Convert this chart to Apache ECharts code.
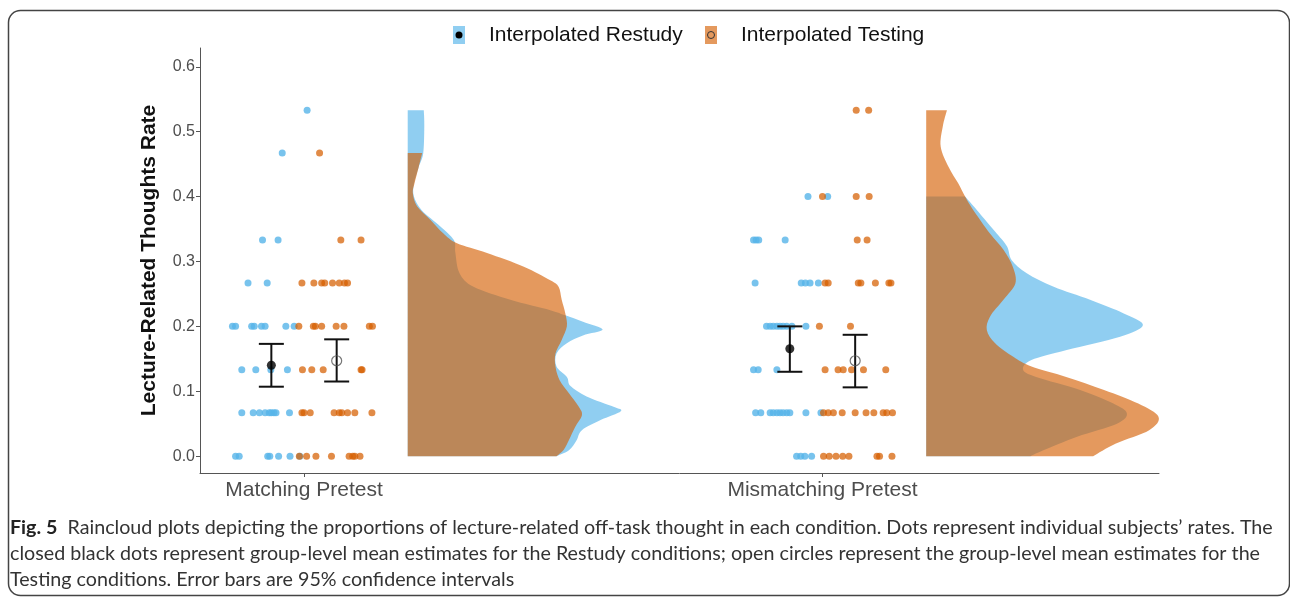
<!DOCTYPE html>
<html><head><meta charset="utf-8">
<script src="https://cdn.jsdelivr.net/npm/echarts@6/dist/echarts.min.js"></script>
<style>html,body{margin:0;padding:0;background:#fff}#c{width:1290px;height:598px}</style>
</head><body><div id="c"></div><script>
// ---------------- DATA ----------------
const categories = ['Matching Pretest', 'Mismatching Pretest'];
const yTicks = [0, 0.1, 0.2, 0.3, 0.4, 0.5, 0.6];
const seriesNames = ['Interpolated Restudy', 'Interpolated Testing'];

// individual subject rates and horizontal position (offset from category centre)
const matchRestudyRates = [0.533, 0.467, 0.333, 0.333, 0.267, 0.267,
  0.2, 0.2, 0.2, 0.2, 0.2, 0.2, 0.2, 0.2,
  0.133, 0.133, 0.133, 0.133,
  0.067, 0.067, 0.067, 0.067, 0.067, 0.067, 0.067, 0.067, 0.067,
  0, 0, 0, 0, 0, 0, 0];
const matchRestudyOffset = [0.006, -0.042, -0.080, -0.050, -0.108, -0.071,
  -0.138, -0.132, -0.101, -0.096, -0.082, -0.075, -0.035, -0.019,
  -0.120, -0.093, -0.064, -0.032,
  -0.120, -0.098, -0.086, -0.075, -0.067, -0.063, -0.058, -0.054, -0.028,
  -0.132, -0.125, -0.070, -0.066, -0.049, -0.027, -0.008];

const matchTestingRates = [0.467, 0.333, 0.333,
  0.267, 0.267, 0.267, 0.267, 0.267, 0.267, 0.267, 0.267,
  0.2, 0.2, 0.2, 0.2, 0.2, 0.2, 0.2, 0.2,
  0.133, 0.133, 0.133, 0.133, 0.133,
  0.067, 0.067, 0.067, 0.067, 0.067, 0.067, 0.067, 0.067, 0.067,
  0, 0, 0, 0, 0, 0, 0, 0];
const matchTestingOffset = [0.030, 0.071, 0.110,
  -0.004, 0.019, 0.034, 0.040, 0.055, 0.068, 0.078, 0.084,
  -0.010, 0.018, 0.022, 0.034, 0.062, 0.077, 0.126, 0.132,
  -0.003, 0.015, 0.037, 0.110, 0.112,
  -0.004, 0.000, 0.012, 0.058, 0.068, 0.073, 0.084, 0.098, 0.131,
  -0.009, 0.005, 0.023, 0.053, 0.087, 0.094, 0.098, 0.108];

const mismatchRestudyRates = [0.4, 0.4,
  0.333, 0.333, 0.333, 0.333,
  0.267, 0.267, 0.267, 0.267, 0.267,
  0.2, 0.2, 0.2, 0.2, 0.2, 0.2, 0.2, 0.2, 0.2,
  0.133, 0.133, 0.133,
  0.067, 0.067, 0.067, 0.067, 0.067, 0.067, 0.067, 0.067, 0.067, 0.067, 0.067,
  0, 0, 0, 0];
const mismatchRestudyOffset = [-0.028, 0.010,
  -0.133, -0.128, -0.123, -0.072,
  -0.130, -0.041, -0.033, -0.024, -0.008,
  -0.108, -0.101, -0.095, -0.088, -0.082, -0.076, -0.069, -0.059, -0.032,
  -0.133, -0.124, -0.088,
  -0.129, -0.119, -0.101, -0.095, -0.088, -0.082, -0.076, -0.069, -0.063, -0.032, -0.003,
  -0.050, -0.042, -0.034, -0.021];

const mismatchTestingRates = [0.533, 0.533,
  0.4, 0.4, 0.4,
  0.333, 0.333,
  0.267, 0.267, 0.267, 0.267, 0.267, 0.267, 0.267,
  0.2, 0.2,
  0.133, 0.133, 0.133, 0.133, 0.133, 0.133,
  0.067, 0.067, 0.067, 0.067, 0.067, 0.067, 0.067, 0.067, 0.067, 0.067,
  0, 0, 0, 0, 0, 0, 0, 0];
const mismatchTestingOffset = [0.065, 0.089,
  0.000, 0.065, 0.090,
  0.067, 0.086,
  0.005, 0.011, 0.069, 0.074, 0.102, 0.128, 0.132,
  -0.006, 0.054,
  0.005, 0.030, 0.040, 0.056, 0.079, 0.122,
  0.002, 0.011, 0.021, 0.038, 0.063, 0.084, 0.099, 0.117, 0.124, 0.135,
  0.002, 0.013, 0.026, 0.039, 0.051, 0.105, 0.110, 0.134];

// group-level means and 95% CIs  [Matching, Mismatching]
const restudyMeans = [0.140, 0.1655];
const restudyLow   = [0.107, 0.130];
const restudyHigh  = [0.173, 0.200];
const testingMeans = [0.147, 0.147];
const testingLow   = [0.115, 0.106];
const testingHigh  = [0.180, 0.187];

// half-violin densities: [rate, scaled density], from top of range down to 0
const matchRestudyDensity = [[0.533,0.031],[0.51,0.032],[0.467,0.030],[0.445,0.021],[0.42,0.012],[0.40,0.012],
  [0.379,0.027],[0.354,0.063],[0.333,0.089],[0.313,0.092],[0.282,0.100],[0.261,0.127],[0.241,0.198],
  [0.225,0.275],[0.217,0.304],[0.207,0.338],[0.195,0.376],[0.186,0.338],[0.174,0.307],[0.158,0.287],
  [0.138,0.287],[0.122,0.307],[0.108,0.314],[0.092,0.345],[0.076,0.397],[0.069,0.411],[0.0555,0.372],
  [0.04,0.336],[0.025,0.326],[0.009,0.311],[0,0.287]];
const matchTestingDensity = [[0.467,0.028],[0.445,0.021],[0.42,0.013],[0.405,0.010],[0.385,0.018],[0.364,0.044],
  [0.343,0.069],[0.328,0.095],[0.313,0.153],[0.292,0.224],[0.271,0.275],[0.261,0.291],[0.241,0.297],
  [0.22,0.304],[0.2,0.307],[0.179,0.297],[0.158,0.285],[0.138,0.285],[0.117,0.293],[0.097,0.311],
  [0.076,0.330],[0.063,0.336],[0.045,0.323],[0.025,0.311],[0.01,0.301],[0,0.287]];
const mismatchRestudyDensity = [[0.4,0.075],[0.379,0.098],[0.343,0.136],[0.323,0.156],[0.302,0.165],[0.282,0.194],
  [0.261,0.246],[0.241,0.316],[0.22,0.381],[0.202,0.418],[0.184,0.374],[0.1635,0.271],[0.148,0.203],
  [0.133,0.187],[0.122,0.212],[0.102,0.297],[0.081,0.361],[0.066,0.387],[0.05,0.368],[0.03,0.291],
  [0.009,0.226],[0,0.201]];
const mismatchTestingDensity = [[0.533,0.040],[0.508,0.032],[0.477,0.028],[0.446,0.043],[0.42,0.062],[0.4,0.075],
  [0.379,0.091],[0.343,0.123],[0.318,0.149],[0.292,0.167],[0.266,0.172],[0.241,0.149],[0.215,0.123],
  [0.194,0.117],[0.174,0.133],[0.153,0.168],[0.138,0.203],[0.122,0.270],[0.102,0.343],[0.081,0.409],
  [0.0606,0.448],[0.04,0.430],[0.0195,0.366],[0,0.322]];

// ---------------- LAYOUT / STYLE ----------------
const DODGE = 0.063;         // dodge of the two conditions within a category
const VIOLIN_OFFSET = 0.2;   // half-violin baseline relative to category centre
const BLUE = '#56B4E9', ORANGE = '#D55E00';
const BLUE_FILL = 'rgba(86,180,233,0.66)', ORANGE_FILL = 'rgba(213,94,0,0.63)';

const chart = echarts.init(document.getElementById('c'), null, {renderer: 'canvas'});

function dots(rates, offs, cat) { return rates.map((r, i) => [cat + offs[i], r]); }

function densityRender(pairs, base, fill) {
  return function (params, api) {
    const pts = pairs.map(p => api.coord([base + p[1], p[0]]));
    const top = api.coord([base, pairs[0][0]]);
    const bot = api.coord([base, pairs[pairs.length - 1][0]]);
    let d = 'M' + top[0] + ',' + top[1] + ' L' + pts[0][0] + ',' + pts[0][1];
    const n = pts.length;
    for (let i = 0; i < n - 1; i++) {
      const p0 = pts[Math.max(i - 1, 0)], p1 = pts[i], p2 = pts[i + 1], p3 = pts[Math.min(i + 2, n - 1)];
      const c1 = [p1[0] + (p2[0] - p0[0]) / 6, p1[1] + (p2[1] - p0[1]) / 6];
      const c2 = [p2[0] - (p3[0] - p1[0]) / 6, p2[1] - (p3[1] - p1[1]) / 6];
      d += ' C' + c1[0] + ',' + c1[1] + ' ' + c2[0] + ',' + c2[1] + ' ' + p2[0] + ',' + p2[1];
    }
    d += ' L' + bot[0] + ',' + bot[1] + ' Z';
    return { type: 'path', shape: { pathData: d }, style: { fill: fill, stroke: null } };
  };
}

function densitySeries(name, pairs, cat, fill) {
  return { type: 'custom', name: name, coordinateSystem: 'cartesian2d', silent: true,
    renderItem: densityRender(pairs, cat + VIOLIN_OFFSET, fill), data: [[cat + VIOLIN_OFFSET, 0]], z: 1 };
}

function errorRender(params, api) {
  const x = api.value(0);
  const lo = api.coord([x, api.value(1)]), hi = api.coord([x, api.value(2)]);
  const hw = 12.5;
  const st = { stroke: '#111', lineWidth: 2 };
  return { type: 'group', children: [
    { type: 'line', shape: { x1: lo[0], y1: lo[1], x2: hi[0], y2: hi[1] }, style: st },
    { type: 'line', shape: { x1: lo[0] - hw, y1: lo[1], x2: lo[0] + hw, y2: lo[1] }, style: st },
    { type: 'line', shape: { x1: hi[0] - hw, y1: hi[1], x2: hi[0] + hw, y2: hi[1] }, style: st }
  ]};
}

const errData = [];
[1, 2].forEach((c, i) => {
  errData.push([c - DODGE, restudyLow[i], restudyHigh[i]]);
  errData.push([c + DODGE, testingLow[i], testingHigh[i]]);
});

const captionFont = 'Lato';
const CAP_SIZE = 19.7;
const option = {
  backgroundColor: '#fff',
  animation: false,
  grid: { left: 200, right: 131, top: 48, bottom: 125 },
  xAxis: {
    type: 'value', min: 0.7994, max: 2.649,
    splitLine: { show: false },
    axisLine: { show: true, onZero: false, lineStyle: { color: '#555', width: 1 } },
    axisTick: { show: true, customValues: [1, 2], length: 4, lineStyle: { color: '#555' } },
    axisLabel: { customValues: [1, 2], formatter: v => categories[Math.round(v) - 1],
      fontSize: 21, color: '#4d4d4d', fontFamily: 'Liberation Sans', margin: 7 }
  },
  yAxis: {
    type: 'value', min: -0.026, max: 0.629,
    name: 'Lecture-Related Thoughts Rate', nameLocation: 'middle', nameGap: 40,
    nameTextStyle: { fontSize: 21, fontWeight: 'bold', color: '#111', fontFamily: 'Liberation Sans' },
    splitLine: { show: false },
    axisLine: { show: true, onZero: false, lineStyle: { color: '#555', width: 1 } },
    axisTick: { show: true, customValues: yTicks, length: 4, lineStyle: { color: '#555' } },
    axisLabel: { customValues: yTicks, formatter: v => v.toFixed(1),
      fontSize: 16, color: '#4d4d4d', fontFamily: 'Liberation Sans', margin: 5 }
  },
  series: [
    densitySeries(seriesNames[0], matchRestudyDensity, 1, BLUE_FILL),
    densitySeries(seriesNames[0], mismatchRestudyDensity, 2, BLUE_FILL),
    densitySeries(seriesNames[1], matchTestingDensity, 1, ORANGE_FILL),
    densitySeries(seriesNames[1], mismatchTestingDensity, 2, ORANGE_FILL),
    { type: 'scatter', name: seriesNames[0], symbolSize: 7, silent: true, z: 3,
      itemStyle: { color: BLUE, opacity: 0.8 },
      data: dots(matchRestudyRates, matchRestudyOffset, 1).concat(dots(mismatchRestudyRates, mismatchRestudyOffset, 2)) },
    { type: 'scatter', name: seriesNames[1], symbolSize: 7, silent: true, z: 4,
      itemStyle: { color: ORANGE, opacity: 0.72 },
      data: dots(matchTestingRates, matchTestingOffset, 1).concat(dots(mismatchTestingRates, mismatchTestingOffset, 2)) },
    { type: 'custom', name: 'ci', coordinateSystem: 'cartesian2d', silent: true, z: 5,
      renderItem: errorRender, data: errData },
    { type: 'scatter', name: 'restudyMean', symbol: 'circle', symbolSize: 9, silent: true, z: 6,
      itemStyle: { color: '#000' },
      data: restudyMeans.map((m, i) => [i + 1 - DODGE, m]) },
    { type: 'scatter', name: 'testingMean', symbol: 'circle', symbolSize: 10, silent: true, z: 6,
      itemStyle: { color: 'rgba(255,255,255,0)', borderColor: '#555', borderWidth: 1.2 },
      data: testingMeans.map((m, i) => [i + 1 + DODGE, m]) }
  ],
  graphic: [
    { type: 'rect', left: 6, top: 8, shape: { width: 1281, height: 585, r: 12 }, silent: true,
      style: { fill: 'none', stroke: '#444', lineWidth: 1.5 }, z: 10 },
    // legend
    { type: 'rect', shape: { x: 453, y: 26, width: 12, height: 18 }, style: { fill: BLUE_FILL }, z: 10 },
    { type: 'circle', shape: { cx: 459, cy: 35, r: 3.5 }, style: { fill: '#000' }, z: 11 },
    { type: 'text', x: 489, y: 35, style: { text: seriesNames[0], fontSize: 21, fontFamily: 'Liberation Sans',
      fill: '#111', verticalAlign: 'middle' }, z: 11 },
    { type: 'rect', shape: { x: 705, y: 26, width: 12, height: 18 }, style: { fill: ORANGE_FILL }, z: 10 },
    { type: 'circle', shape: { cx: 711, cy: 35, r: 3.5 }, style: { fill: 'none', stroke: '#333', lineWidth: 1 }, z: 11 },
    { type: 'text', x: 741, y: 35, style: { text: seriesNames[1], fontSize: 21, fontFamily: 'Liberation Sans',
      fill: '#111', verticalAlign: 'middle' }, z: 11 },
    // caption
    { type: 'text', x: 10, y: 528, z: 11, style: {
      text: '{b|Fig. 5}  Raincloud plots depicting the proportions of lecture-related off-task thought in each condition. Dots represent individual subjects’ rates. The',
      fontSize: CAP_SIZE, fontFamily: captionFont, fill: '#333', verticalAlign: 'middle',
      rich: { b: { fontWeight: 'bold', fontSize: CAP_SIZE, fontFamily: captionFont, fill: '#222' } } } },
    { type: 'text', x: 10, y: 554, z: 11, style: {
      text: 'closed black dots represent group-level mean estimates for the Restudy conditions; open circles represent the group-level mean estimates for the',
      fontSize: CAP_SIZE, fontFamily: captionFont, fill: '#333', verticalAlign: 'middle' } },
    { type: 'text', x: 10, y: 580, z: 11, style: {
      text: 'Testing conditions. Error bars are 95% confidence intervals',
      fontSize: CAP_SIZE, fontFamily: captionFont, fill: '#333', verticalAlign: 'middle' } }
  ]
};
chart.setOption(option);
</script></body></html>
